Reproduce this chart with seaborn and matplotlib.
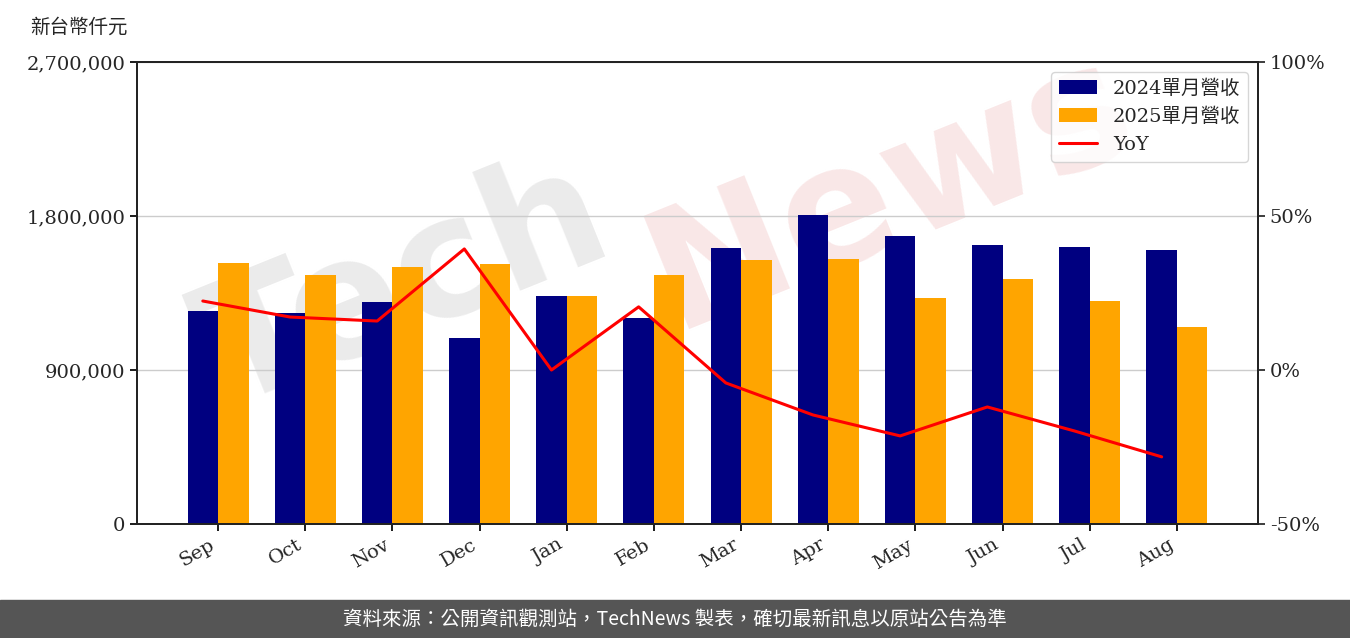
import matplotlib
matplotlib.use("Agg")
import matplotlib.pyplot as plt
import seaborn as sns
import pandas as pd
import numpy as np

months = ["Sep","Oct","Nov","Dec","Jan","Feb","Mar","Apr","May","Jun","Jul","Aug"]
rev2024 = [1245000,1233000,1297000,1087000,1332000,1204000,1613000,1806000,1683000,1630000,1619000,1601000]
rev2025 = [1525000,1455000,1502000,1519000,1332000,1455000,1543000,1549000,1321000,1432000,1303000,1151000]
yoy = [22.4,17.2,15.9,39.3,0.0,20.5,-4.2,-14.6,-21.4,-12.0,-19.8,-28.2]
s1, s2 = "2024單月營收", "2025單月營收"

sns.set_theme(style="white")
fam = ["DejaVu Serif", "Noto Sans CJK TC"]
plt.rcParams["font.family"] = fam

df = pd.DataFrame({"month": months*2, "rev": rev2024+rev2025,
                   "series": [s1]*12 + [s2]*12})

fig = plt.figure(figsize=(13.5, 6.38), dpi=100)
fig.text(0.30, 0.55, "Tech", fontsize=120, color="#d8d8d8", alpha=0.5,
         rotation=22, ha="center", va="center", family="DejaVu Sans", fontweight="bold", zorder=-5)
fig.text(0.66, 0.70, "News", fontsize=120, color="#f2c4c4", alpha=0.4,
         rotation=22, ha="center", va="center", family="DejaVu Sans", fontweight="bold", zorder=-5)

ax = fig.add_axes([137/1350, 1-524/638, (1258-137)/1350, (524-62)/638])
ax.patch.set_alpha(0)
sns.barplot(data=df, x="month", y="rev", hue="series", palette=["#000080", "#FFA500"],
            width=0.7, ax=ax, saturation=1, legend=True, linewidth=0)
ax.set_xlim(-0.93, 11.93)
ax.set_ylim(0, 2700000)
ax.set_yticks([0, 900000, 1800000, 2700000])
ax.set_yticklabels([f"{v:,}" for v in [0, 900000, 1800000, 2700000]], fontsize=14)
ax.set_xlabel(""); ax.set_ylabel("")
ax.yaxis.grid(True, color="#cccccc", lw=1)
ax.set_axisbelow(True)
for lbl in ax.get_xticklabels():
    lbl.set_rotation(30); lbl.set_ha("right"); lbl.set_fontsize(14)
ax.tick_params(axis="both", length=5, color="black", direction="out", bottom=True, left=True)
for sp in ax.spines.values():
    sp.set_color("black"); sp.set_linewidth(1.3)

ax2 = ax.twinx()
ax2.plot(np.arange(12) - 0.175, yoy, color="red", lw=2.2, label="YoY")
ax2.set_ylim(-50, 100)
ax2.set_yticks([-50, 0, 50, 100])
ax2.set_yticklabels(["-50%", "0%", "50%", "100%"], fontsize=14)
ax2.tick_params(axis="y", length=5, direction="out", right=True)

h1, l1 = ax.get_legend_handles_labels()
h2, l2 = ax2.get_legend_handles_labels()
ax.get_legend().remove()
ax2.legend(h1+h2, l1+l2, loc="upper right", frameon=True,
           prop={"family": fam, "size": 14})

fig.text(30/1350, 1-27/638, "新台幣仟元", fontsize=14, va="center", family=["Noto Sans CJK TC"])
fig.patches.append(plt.Rectangle((0, 0), 1, 38/638, transform=fig.transFigure,
                                 color="#555555", zorder=-1))
fig.text(0.5, 19/638, "資料來源：公開資訊觀測站，TechNews 製表，確切最新訊息以原站公告為準",
         color="white", fontsize=14, ha="center", va="center", family=["Noto Sans CJK TC"])
fig.savefig("out.png", dpi=100)
